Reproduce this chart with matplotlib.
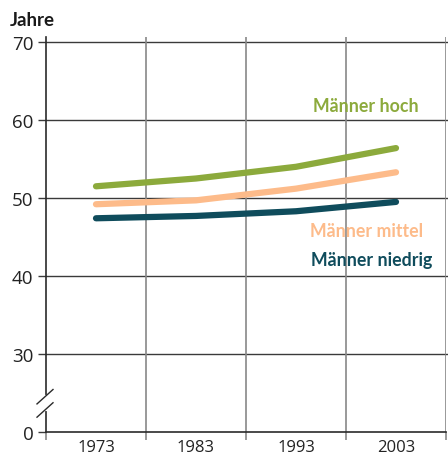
import matplotlib
matplotlib.use("Agg")
import matplotlib.pyplot as plt

# data
years = [1973, 1983, 1993, 2003]
hoch = [51.5, 52.5, 54.0, 56.4]
mittel = [49.2, 49.7, 51.2, 53.3]
niedrig = [47.4, 47.7, 48.3, 49.5]

series = [
    ("Männer hoch", hoch, "#8caa3c", (2000.0, 61.8)),
    ("Männer mittel", mittel, "#fdbb8a", (2000.1, 45.8)),
    ("Männer niedrig", niedrig, "#0f4c5c", (2000.6, 42.1)),
]
ytick_vals = [20, 30, 40, 50, 60, 70]
ytick_labels = ["0", "30", "40", "50", "60", "70"]

W, H = 448, 460
fig = plt.figure(figsize=(W / 100, H / 100), dpi=100)
ax = fig.add_axes([46 / W, 27 / H, 400 / W, (433 - 38) / H])

tick_font = ["Open Sans", "DejaVu Sans"]
label_font = ["Lato", "DejaVu Sans"]

ax.set_xlim(1968, 2008)
ax.set_ylim(20, 70 + 5 / 7.8)

# grid
for yv in ytick_vals[1:]:
    ax.axhline(yv, color="#3a3a3a", lw=1.0, zorder=1, clip_on=False,
               xmax=1.01)
for xv in range(1978, 2009, 10):
    ax.axvline(xv, color="#888888", lw=1.2, zorder=1)

# lines
for name, vals, col, pos in series:
    ax.plot(years, vals, color=col, lw=4.5, solid_capstyle="round", zorder=3)
    ax.text(pos[0], pos[1], name, color=col, ha="center", va="center",
            fontsize=12.8, fontweight="bold", family=label_font, zorder=4)

# axes styling
for s in ["top", "right"]:
    ax.spines[s].set_visible(False)
ax.spines["left"].set_color("#2a2a2a")
ax.spines["bottom"].set_color("#2a2a2a")
ax.spines["left"].set_linewidth(1.2)
ax.spines["bottom"].set_linewidth(1.2)

ax.set_yticks(ytick_vals)
ax.set_yticklabels(ytick_labels)
ax.set_xticks(range(1968, 2009, 10))
ax.set_xticklabels([])
ax.set_xticks(years, minor=True)
ax.set_xticklabels([str(y) for y in years], minor=True)
ax.tick_params(axis="x", which="major", length=6, width=1.2, color="#888888",
               direction="out")
ax.tick_params(axis="x", which="minor", length=0, pad=5, labelsize=12,
               labelcolor="#222222")
ax.tick_params(axis="y", length=6, width=1.0, color="#3a3a3a", pad=3,
               labelsize=13.5, labelcolor="#222222")
for lab in ax.get_xticklabels(minor=True) + ax.get_yticklabels():
    lab.set_family(tick_font)

# axis break on the left spine
ax.plot([1968, 1968], [22.9, 24.5], color="white", lw=3, zorder=5,
        clip_on=False)
for y0 in [21.9, 23.6]:
    ax.plot([1967.1, 1968.7], [y0, y0 + 1.85], color="#2a2a2a",
            lw=1.0, zorder=6, clip_on=False)

fig.text(10 / W, 1 - 20 / H, "Jahre", fontsize=13.5, fontweight="bold",
         family=label_font, color="#1a1a1a", va="center", ha="left")

fig.savefig("out.png", dpi=100)
